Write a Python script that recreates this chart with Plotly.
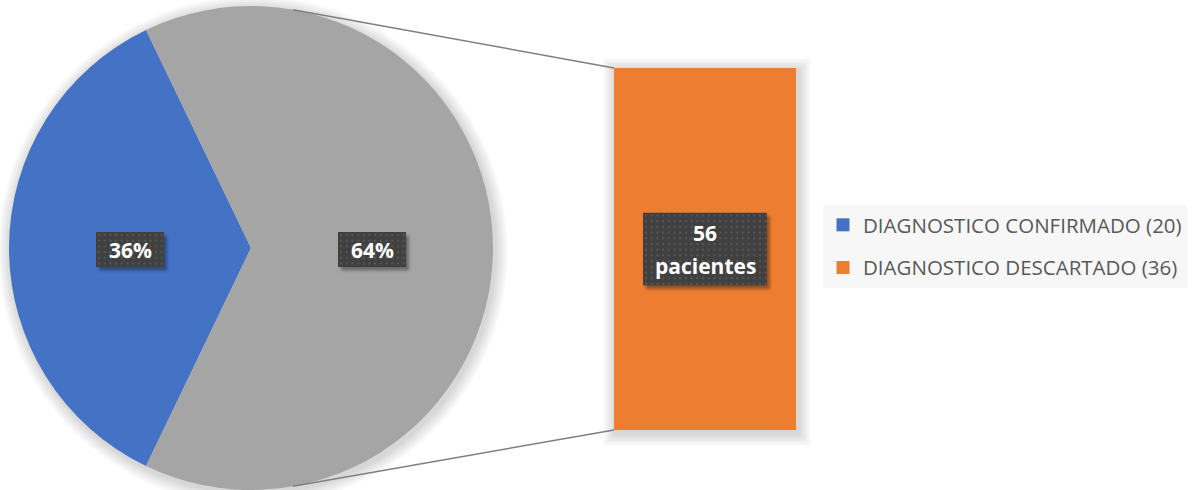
import math
import base64
import plotly.graph_objects as go

# Patient counts
groups = ["DIAGNOSTICO CONFIRMADO", "DIAGNOSTICO DESCARTADO"]
counts = [20, 36]
colors = ["#4472C4", "#A5A5A5"]
bar_color = "#ED7D31"
total = sum(counts)

W, H = 1196, 490

# Pie geometry (pixels)
PIE_CX, PIE_CY, PIE_R = 251, 248, 242
# Bar geometry (pixels)
BAR_X0, BAR_X1, BAR_Y0, BAR_Y1 = 614, 796, 68, 430


def px(x):
    return x / W


def py(y):
    return 1 - y / H


# Rotate so the first slice is centred at 9 o'clock
first_span = counts[0] / total * 360
rotation = 270 - first_span / 2

fig = go.Figure()

# Soft drop shadows behind pie and bar
for k in range(1, 9):
    a = 0.018
    r = PIE_R + k * 1.6
    cx, cy = PIE_CX + 2, PIE_CY + 3
    fig.add_shape(type="circle", xref="paper", yref="paper",
                  x0=px(cx - r), x1=px(cx + r), y0=py(cy + r), y1=py(cy - r),
                  fillcolor=f"rgba(0,0,0,{a})", line_width=0, layer="below")
    e = k * 1.6
    fig.add_shape(type="rect", xref="paper", yref="paper",
                  x0=px(BAR_X0 - e + 2), x1=px(BAR_X1 + e + 2),
                  y0=py(BAR_Y1 + e + 3), y1=py(BAR_Y0 - e + 3),
                  fillcolor=f"rgba(0,0,0,{a})", line_width=0, layer="below")

fig.add_trace(go.Pie(
    labels=groups, values=counts, sort=False, direction="counterclockwise",
    rotation=rotation, marker=dict(colors=colors), textinfo="none",
    domain=dict(x=[px(PIE_CX - PIE_R), px(PIE_CX + PIE_R)],
                y=[py(PIE_CY + PIE_R), py(PIE_CY - PIE_R)]),
    showlegend=False, hoverinfo="label+percent",
))

fig.add_trace(go.Bar(
    x=[0], y=[total], width=[1], marker=dict(color=bar_color, line_width=0),
    xaxis="x", yaxis="y", showlegend=False, hoverinfo="y",
))

# Legend entries
for name, cnt, col in [(groups[0], counts[0], colors[0]), (groups[1], counts[1], bar_color)]:
    fig.add_trace(go.Scatter(
        x=[None], y=[None], mode="markers", name=f"{name} ({cnt})",
        marker=dict(symbol="square", size=13, color=col),
        legendgroup=name, xaxis="x", yaxis="y",
    ))

# Connector lines from pie edge to bar corners
for ang, by in [(80, BAR_Y0), (-80, BAR_Y1)]:
    sx = PIE_CX + PIE_R * math.cos(math.radians(ang))
    sy = PIE_CY - PIE_R * math.sin(math.radians(ang))
    fig.add_shape(type="line", xref="paper", yref="paper",
                  x0=px(sx), y0=py(sy), x1=px(BAR_X0), y1=py(by),
                  line=dict(color="#7F7F7F", width=1.5))


def dotted_box_svg(w, h, pad=7):
    """Dark label box with a dotted fill pattern and a soft drop shadow."""
    svg = f"""<svg xmlns="http://www.w3.org/2000/svg" width="{w + pad}" height="{h + pad}">
<defs>
<filter id="b" x="-20%" y="-20%" width="140%" height="140%"><feGaussianBlur stdDeviation="1.6"/></filter>
<pattern id="p" width="5.7" height="5.7" patternUnits="userSpaceOnUse">
<rect width="5.7" height="5.7" fill="#404040"/><rect x="2" y="2" width="2" height="2" fill="#585858"/>
</pattern>
</defs>
<rect x="3" y="3.5" width="{w}" height="{h}" fill="rgba(0,0,0,0.35)" filter="url(#b)"/>
<rect x="0" y="0" width="{w}" height="{h}" fill="url(#p)"/>
</svg>"""
    return "data:image/svg+xml;base64," + base64.b64encode(svg.encode()).decode()


def label(x, y, lines, w, h, line_gap=33):
    pad = 7
    fig.add_layout_image(
        source=dotted_box_svg(w, h, pad), xref="paper", yref="paper",
        x=px(x - w / 2), y=py(y - h / 2), sizex=(w + pad) / W, sizey=(h + pad) / H,
        xanchor="left", yanchor="top", sizing="stretch", layer="above",
    )
    n = len(lines)
    for i, text in enumerate(lines):
        ly = y + (i - (n - 1) / 2) * line_gap
        fig.add_annotation(x=px(x), y=py(ly), xref="paper", yref="paper", text=text,
                           showarrow=False, xanchor="center", yanchor="middle", align="center",
                           font=dict(family="Open Sans", size=21, color="white", weight="bold"))


pct = [round(c / total * 100) for c in counts]
label(PIE_CX - PIE_R / 2, PIE_CY + 1.5, [f"{pct[0]}%"], 68, 35)
label(PIE_CX + PIE_R / 2, PIE_CY + 1.5, [f"{pct[1]}%"], 68, 35)
label((BAR_X0 + BAR_X1) / 2, (BAR_Y0 + BAR_Y1) / 2, [f"{total}", "pacientes"], 124, 73)

fig.update_layout(
    width=W, height=H, margin=dict(l=0, r=0, t=0, b=0),
    paper_bgcolor="white", plot_bgcolor="rgba(0,0,0,0)",
    xaxis=dict(domain=[px(BAR_X0), px(BAR_X1)], range=[-0.5, 0.5], visible=False, fixedrange=True),
    yaxis=dict(domain=[py(BAR_Y1), py(BAR_Y0)], range=[0, total], visible=False, fixedrange=True),
    legend=dict(x=px(823), y=py(205), xanchor="left", yanchor="top",
                bgcolor="#F7F7F7", tracegroupgap=13,
                font=dict(family="Open Sans", size=20.5, color="#595959")),
    showlegend=True,
)

fig.write_html("out.html")
